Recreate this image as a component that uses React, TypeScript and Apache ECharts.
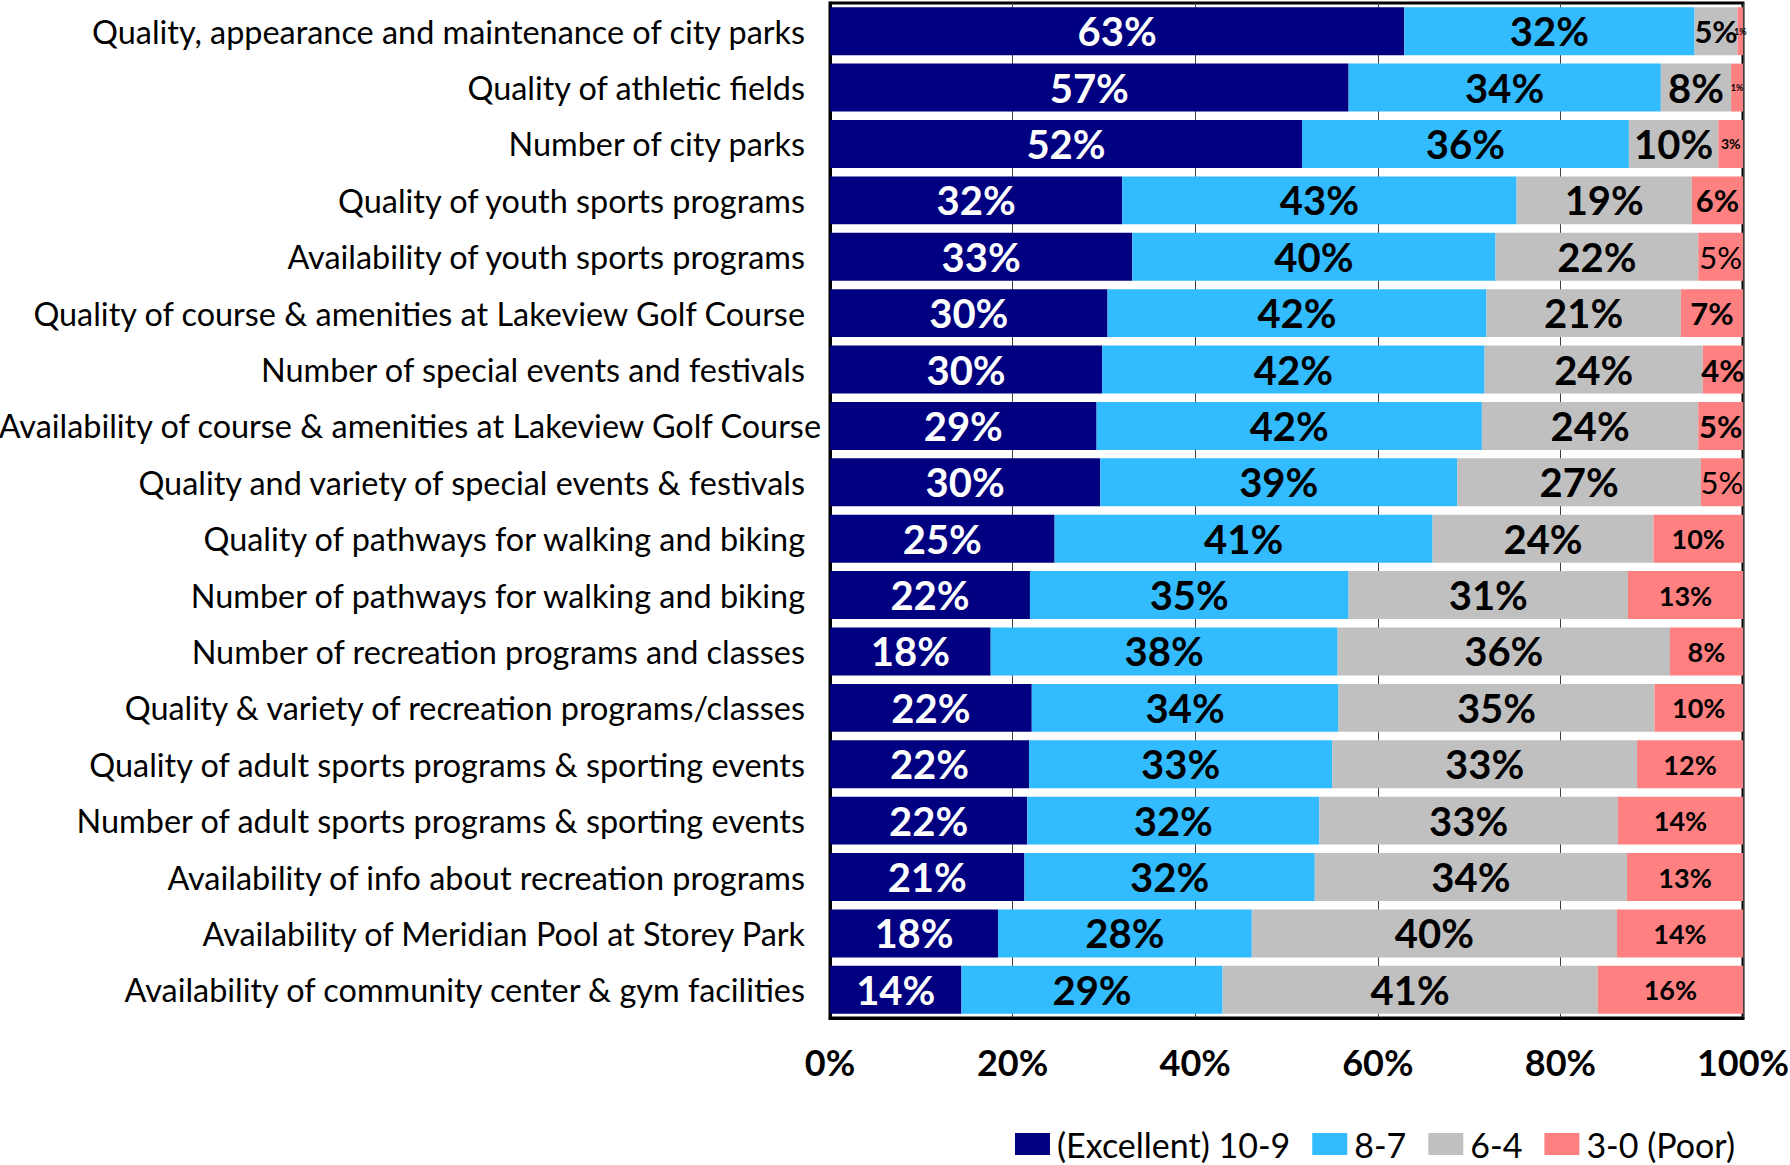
import React, { useEffect, useRef } from "react";
import * as echarts from "echarts";

const categories = [
  "Quality, appearance and maintenance of city parks",
  "Quality of athletic fields",
  "Number of city parks",
  "Quality of youth sports programs",
  "Availability of youth sports programs",
  "Quality of course & amenities at Lakeview Golf Course",
  "Number of special events and festivals",
  "Availability of course & amenities at Lakeview Golf Course",
  "Quality and variety of special events & festivals",
  "Quality of pathways for walking and biking",
  "Number of pathways for walking and biking",
  "Number of recreation programs and classes",
  "Quality & variety of recreation programs/classes",
  "Quality of adult sports programs & sporting events",
  "Number of adult sports programs & sporting events",
  "Availability of info about recreation programs",
  "Availability of Meridian Pool at Storey Park",
  "Availability of community center & gym facilities",
];

const seriesNames = ["(Excellent) 10-9", "8-7", "6-4", "3-0 (Poor)"];

const excellent = [62.9, 56.8, 51.7, 32.0, 33.1, 30.4, 29.8, 29.2, 29.6, 24.6, 21.9, 17.6, 22.1, 21.8, 21.6, 21.3, 18.4, 14.4];
const good = [31.8, 34.2, 35.8, 43.2, 39.8, 41.5, 41.9, 42.2, 39.1, 41.4, 34.9, 38.0, 33.6, 33.2, 32.0, 31.8, 27.8, 28.6];
const fair = [4.7, 7.7, 9.8, 19.2, 22.2, 21.3, 23.9, 23.7, 26.7, 24.2, 30.6, 36.4, 34.6, 33.4, 32.7, 34.2, 40.0, 41.1];
const poor = [0.6, 1.3, 2.7, 5.6, 4.9, 6.8, 4.4, 4.9, 4.6, 9.8, 12.6, 8.0, 9.7, 11.6, 13.7, 12.7, 13.8, 15.9];

const axisTicks = [0, 20, 40, 60, 80, 100];

const COLORS = ["#000080", "#33BBFF", "#C0C0C0", "#FF8080"];
const FONT = "Lato, 'Open Sans', sans-serif";

const fmt = (p: any) => Math.round(p.value) + "%";

function poorLabel(i: number) {
  let size = 27;
  if (i <= 1) size = 9;
  else if (i === 2) size = 14;
  else if (i <= 8) size = 31;
  const weight = i === 4 || i === 8 ? "normal" : "bold";
  return { fontSize: size, fontWeight: weight };
}

export default function App() {
  const ref = useRef<HTMLDivElement>(null);
  useEffect(() => {
    if (!ref.current) return;
    const chart = echarts.init(ref.current, null, { renderer: "svg" });
    const baseLabel = {
      show: true,
      position: "inside",
      fontFamily: FONT,
      fontWeight: "bold",
      fontSize: 40,
      color: "#000",
      formatter: fmt,
    };
    const longest = categories.reduce((a, b) => (b.length > a.length ? b : a), "");
    chart.setOption({
      animation: false,
      textStyle: { fontFamily: FONT },
      color: COLORS,
      grid: {
        left: 830,
        right: 47,
        top: 3,
        bottom: 147,
        containLabel: false,
        outerBoundsMode: "none",
        show: true,
        borderColor: "#000",
        borderWidth: 3,
      },
      legend: {
        data: seriesNames,
        left: 1015,
        top: 1127,
        padding: 0,
        icon: "rect",
        itemWidth: 35,
        itemHeight: 22,
        itemGap: 22,
        textStyle: { fontFamily: FONT, fontSize: 34, color: "#000", padding: [0, 0, 0, 2] },
      },
      xAxis: {
        type: "value",
        min: axisTicks[0],
        max: axisTicks[axisTicks.length - 1],
        interval: axisTicks[1] - axisTicks[0],
        axisLine: { show: true, lineStyle: { color: "#000", width: 3 } },
        axisTick: { show: false },
        splitLine: { show: true, lineStyle: { color: "#404040", width: 1 } },
        axisLabel: {
          formatter: "{value}%",
          fontFamily: FONT,
          fontWeight: "bold",
          fontSize: 36,
          color: "#000",
          margin: 26,
        },
      },
      yAxis: {
        type: "category",
        data: categories.map((c) =>
          c === longest ? { value: c, textStyle: { padding: [0, -16, 0, 0] } } : c
        ),
        inverse: true,
        axisLine: { show: true, lineStyle: { color: "#000", width: 3 } },
        axisTick: { show: false },
        axisLabel: {
          fontFamily: FONT,
          fontSize: 32.4,
          color: "#000",
          margin: 25,
        },
      },
      series: [
        {
          name: seriesNames[0],
          type: "bar",
          stack: "total",
          barCategoryGap: "15%",
          data: excellent,
          label: { ...baseLabel, color: "#fff" },
        },
        {
          name: seriesNames[1],
          type: "bar",
          stack: "total",
          data: good,
          label: { ...baseLabel },
        },
        {
          name: seriesNames[2],
          type: "bar",
          stack: "total",
          data: fair.map((v, i) => (i === 0 ? { value: v, label: { fontSize: 31 } } : v)),
          label: { ...baseLabel },
        },
        {
          name: seriesNames[3],
          type: "bar",
          stack: "total",
          data: poor.map((v, i) => ({ value: v, label: poorLabel(i) })),
          label: { ...baseLabel },
        },
      ],
    });
    return () => chart.dispose();
  }, []);
  return (
    <div
      ref={ref}
      style={{ position: "fixed", left: 0, top: 0, width: 1790, height: 1165, background: "#fff" }}
    />
  );
}
